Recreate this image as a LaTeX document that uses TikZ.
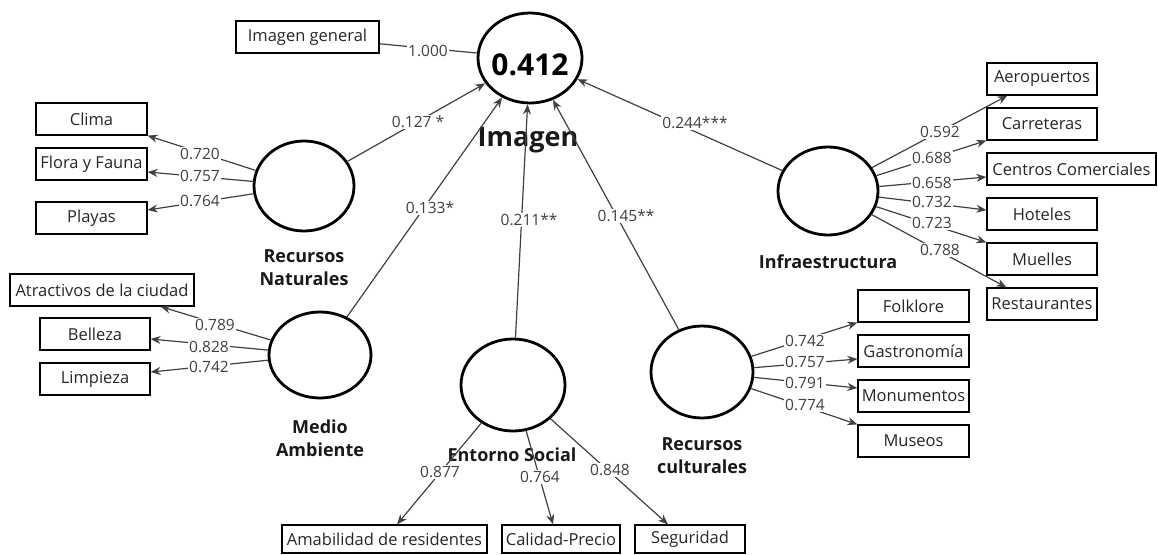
\documentclass[tikz,border=0pt]{standalone}
\usepackage{fontspec}
\setmainfont{Open Sans}
\usetikzlibrary{shapes.geometric,arrows.meta}
\begin{document}
\begin{tikzpicture}[x=1pt,y=-1pt,
  box/.style={draw=black,line width=1.2pt,minimum height=32pt,inner sep=2pt,font=\fontsize{16.5}{18}\selectfont,text=black!85},
  lat/.style={draw=black,ellipse,line width=2.8pt,inner sep=0pt},
  lbl/.style={fill=white,inner sep=1pt,font=\fontsize{15.5}{17}\selectfont,text=black!75},
  ttl/.style={font=\bfseries\fontsize{18}{23}\selectfont,align=center,text=black!90},
  con/.style={draw=black!75,line width=1.2pt},
  arr/.style={con,-{Stealth[length=10pt,width=8pt]}}
]
\useasboundingbox (0,0) rectangle (1158,554);
% latent variables
\node[lat,minimum width=104pt,minimum height=90pt] (img) at (530,58) {};
\node[lat,minimum width=100pt,minimum height=90pt] (nat) at (304,186) {};
\node[lat,minimum width=102pt,minimum height=86pt] (med) at (320,355) {};
\node[lat,minimum width=104pt,minimum height=92pt] (ent) at (513,385) {};
\node[lat,minimum width=102pt,minimum height=92pt] (cul) at (702,372) {};
\node[lat,minimum width=100pt,minimum height=88pt] (inf) at (828,191) {};
\node[font=\bfseries\fontsize{30}{32}\selectfont] (v412) at (530,65) {0.412};
\node[ttl,font=\bfseries\fontsize{27}{29}\selectfont] (imgL) at (528,140) {Imagen};
\node[ttl] (natL) at (304,268) {Recursos\\Naturales};
\node[ttl] (medL) at (320,438) {Medio\\Ambiente};
\node[ttl] (entL) at (512,455) {Entorno Social};
\node[ttl] (culL) at (702,456) {Recursos\\culturales};
\node[ttl] (infL) at (828,262) {Infraestructura};
% indicators
\node[box,minimum width=143pt] (gen) at (307.5,37) {Imagen general};
\node[box,minimum width=111pt] (clima) at (91.5,119) {Clima};
\node[box,minimum width=111pt] (flora) at (91.5,164) {Flora y Fauna};
\node[box,minimum width=111pt] (playas) at (91.5,218) {Playas};
\node[box,minimum width=184pt] (atr) at (102,290) {Atractivos de la ciudad};
\node[box,minimum width=110pt] (bel) at (95,334) {Belleza};
\node[box,minimum width=110pt] (lim) at (95,379) {Limpieza};
\node[box,minimum width=205pt,minimum height=28pt] (amab) at (384.5,539) {Amabilidad de residentes};
\node[box,minimum width=118pt,minimum height=28pt] (cal) at (561,539) {Calidad-Precio};
\node[box,minimum width=110pt,minimum height=28pt] (seg) at (690,539) {Seguridad};
\node[box,minimum width=111pt] (folk) at (913.5,306) {Folklore};
\node[box,minimum width=111pt] (gast) at (913.5,351) {Gastronomía};
\node[box,minimum width=111pt] (monu) at (913.5,396) {Monumentos};
\node[box,minimum width=111pt] (muse) at (913.5,441) {Museos};
\node[box,minimum width=110pt] (aero) at (1042,79) {Aeropuertos};
\node[box,minimum width=110pt] (carr) at (1042,124) {Carreteras};
\node[box,minimum width=169pt] (cent) at (1071.5,169) {Centros Comerciales};
\node[box,minimum width=110pt] (hot) at (1042,214) {Hoteles};
\node[box,minimum width=110pt] (mue) at (1042,259) {Muelles};
\node[box,minimum width=110pt] (rest) at (1042,304) {Restaurantes};
% structural paths
\draw[con] (gen) -- (img);
\draw[arr] (nat) -- (img);
\draw[arr] (med) -- (img);
\draw[arr] (ent) -- (img);
\draw[arr] (cul) -- (img);
\draw[arr] (inf) -- (img);
% loadings
\draw[arr] (nat) -- (clima.south east);
\draw[arr] (nat) -- ([yshift=-8pt]flora.east);
\draw[arr] (nat) -- ([yshift=8pt]playas.east);
\draw[arr] (med) -- ([xshift=-34pt]atr.south east);
\draw[arr] (med) -- ([yshift=-5pt]bel.east);
\draw[arr] (med) -- ([yshift=7pt]lim.east);
\draw[arr] (ent) -- ([xshift=12.5pt]amab.north);
\draw[arr] (ent) -- ([xshift=-8pt]cal.north);
\draw[arr] (ent) -- ([xshift=-22pt]seg.north);
\draw[arr] (cul) -- (folk.south west);
\draw[arr] (cul) -- ([yshift=-8pt]gast.west);
\draw[arr] (cul) -- ([yshift=8pt]monu.west);
\draw[arr] (cul) -- (muse.north west);
\draw[arr] (inf) -- ([xshift=21pt]aero.south west);
\draw[arr] (inf) -- (carr.south west);
\draw[arr] (inf) -- ([yshift=-8pt]cent.west);
\draw[arr] (inf) -- ([yshift=4pt]hot.west);
\draw[arr] (inf) -- (mue.north west);
\draw[arr] (inf) -- ([xshift=20pt]rest.north west);
% labels
\node[lbl] (l1) at (428,51) {1.000};
\node[lbl] (l2) at (418,122) {0.127 *};
\node[lbl] (l3) at (430,208) {0.133*};
\node[lbl] (l4) at (529,220) {0.211**};
\node[lbl] (l5) at (626,216) {0.145**};
\node[lbl] (l6) at (695,123) {0.244***};
\node[lbl] (a1) at (200,154) {0.720};
\node[lbl] (a2) at (200,176) {0.757};
\node[lbl] (a3) at (200,201) {0.764};
\node[lbl] (b1) at (215,325) {0.789};
\node[lbl] (b2) at (209,347) {0.828};
\node[lbl] (b3) at (209,367) {0.742};
\node[lbl] (c1) at (440,472) {0.877};
\node[lbl] (c2) at (540,477) {0.764};
\node[lbl] (c3) at (610,470) {0.848};
\node[lbl] (d1) at (805,341) {0.742};
\node[lbl] (d2) at (805,362) {0.757};
\node[lbl] (d3) at (805,383) {0.791};
\node[lbl] (d4) at (805,405) {0.774};
\node[lbl] (e1) at (940,132) {0.592};
\node[lbl] (e2) at (932,158) {0.688};
\node[lbl] (e3) at (932,183) {0.658};
\node[lbl] (e4) at (932,202) {0.732};
\node[lbl] (e5) at (932,223) {0.723};
\node[lbl] (e6) at (940,250) {0.788};
\end{tikzpicture}
\end{document}
